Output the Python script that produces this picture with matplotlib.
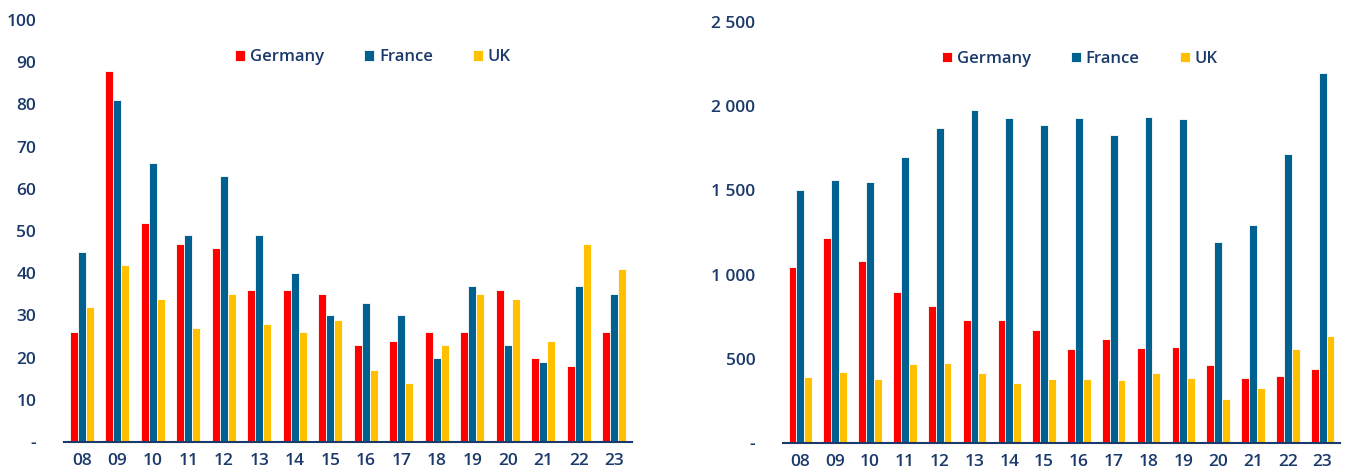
import matplotlib
matplotlib.use("Agg")
import matplotlib.pyplot as plt
import numpy as np

plt.rcParams['font.family'] = ['Open Sans', 'DejaVu Sans']

years = ["08", "09", "10", "11", "12", "13", "14", "15",
         "16", "17", "18", "19", "20", "21", "22", "23"]
series = ["Germany", "France", "UK"]

# left panel
left_germany = [26, 88, 52, 47, 46, 36, 36, 35, 23, 24, 26, 26, 36, 20, 18, 26]
left_france = [45, 81, 66, 49, 63, 49, 40, 30, 33, 30, 20, 37, 23, 19, 37, 35]
left_uk = [32, 42, 34, 27, 35, 28, 26, 29, 17, 14, 23, 35, 34, 24, 47, 41]
left_ticks = [0, 10, 20, 30, 40, 50, 60, 70, 80, 90, 100]
left_ticklabels = ["-", "10", "20", "30", "40", "50", "60", "70", "80", "90", "100"]

# right panel
right_germany = [1048, 1220, 1081, 894, 811, 732, 732, 671,
                 558, 616, 563, 570, 463, 386, 400, 441]
right_france = [1500, 1563, 1547, 1698, 1868, 1977, 1927, 1890,
                1930, 1827, 1936, 1926, 1193, 1295, 1716, 2197]
right_uk = [390, 422, 380, 467, 476, 413, 354, 381,
            381, 375, 413, 387, 262, 327, 560, 635]
right_ticks = [0, 500, 1000, 1500, 2000, 2500]
right_ticklabels = ["-", "500", "1 000", "1 500", "2 000", "2 500"]

colors = ["#FF0000", "#00608F", "#FFC000"]
navy = "#1B3A6B"

fig = plt.figure(figsize=(13.46, 4.71), dpi=100)
ax1 = fig.add_axes([64 / 1346, 29 / 471, 568 / 1346, 422 / 471])
ax2 = fig.add_axes([783 / 1346, 28 / 471, 557 / 1346, 421 / 471])


def draw(ax, data, ticks, ticklabels, ymax, legend_x):
    x = np.arange(len(years))
    w = 0.225
    for i, (name, vals) in enumerate(zip(series, data)):
        ax.bar(x + (i - 1) * w, vals, width=w, color=colors[i],
               edgecolor="white", linewidth=0.6, label=name, zorder=2)
    ax.set_xlim(-0.5, len(years) - 0.5)
    ax.set_ylim(0, ymax)
    ax.set_xticks(x)
    ax.set_xticklabels(years)
    ax.set_yticks(ticks)
    ax.set_yticklabels(ticklabels)
    for s in ["top", "right", "left"]:
        ax.spines[s].set_visible(False)
    ax.spines["bottom"].set_color(navy)
    ax.spines["bottom"].set_linewidth(1.5)
    ax.tick_params(axis="both", length=0, labelsize=12.5, labelcolor=navy)
    ax.tick_params(axis="y", pad=20)
    ax.tick_params(axis="x", pad=8)
    for lab in ax.get_xticklabels() + ax.get_yticklabels():
        lab.set_fontweight("semibold")
    leg = ax.legend(loc="center left", bbox_to_anchor=(legend_x, 0.912),
                    ncol=3, frameon=False, borderpad=0, borderaxespad=0,
                    handlelength=0.6, handleheight=0.6, handletextpad=0.3,
                    columnspacing=2.4, prop={"size": 12, "weight": "semibold"})
    for t in leg.get_texts():
        t.set_color(navy)


draw(ax1, [left_germany, left_france, left_uk], left_ticks, left_ticklabels, 100, 0.301)
draw(ax2, [right_germany, right_france, right_uk], right_ticks, right_ticklabels, 2500, 0.285)

fig.savefig("out.png", dpi=100)
